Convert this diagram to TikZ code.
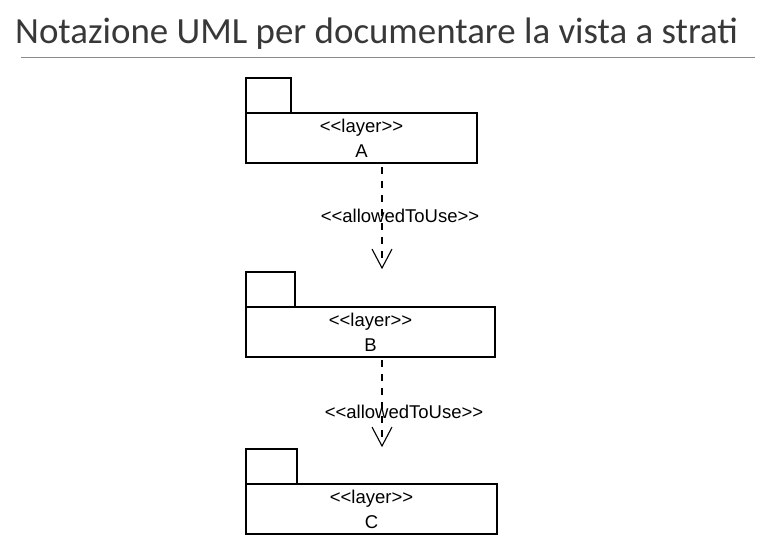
\documentclass[tikz,border=0pt]{standalone}
\usepackage{fontspec}
\usepackage{xcolor}
\usetikzlibrary{arrows.meta, calc, positioning}
\newfontfamily\titlefont{Carlito}
\newfontfamily\umlfont{Liberation Sans}
\definecolor{titlegray}{RGB}{56,56,56}
\definecolor{rulegray}{RGB}{140,140,140}
\newcommand{\stereo}[1]{<\kern0pt<#1>\kern0pt>}
\tikzset{
  layerbox/.style={draw, line width=1.1pt, inner sep=0pt, outer sep=0pt,
    minimum height=50pt, align=center,
    font=\umlfont\fontsize{18.5}{25}\selectfont},
  layertab/.style={draw, line width=1.1pt, inner sep=0pt, outer sep=0pt,
    minimum height=35pt, anchor=south west},
  allowed/.style={dashed, dash pattern=on 7pt off 7pt, line width=1.1pt},
  vhead/.style={line width=1.1pt, line join=miter},
  uselabel/.style={font=\umlfont\fontsize{18.5}{22}\selectfont, inner sep=0pt}
}

\begin{document}
\begin{tikzpicture}[x=1pt, y=-1pt, >=Stealth]
                \useasboundingbox (0,0) rectangle (767,542);

                % Title
                \node[anchor=base west, inner sep=0pt, text=titlegray,
                  font=\titlefont\fontsize{36.9}{40}\selectfont] (title) at (15,43)
                  {Notazione UML per documentare la vista a strati};
                \draw[rulegray, line width=1pt] (21,57) -- (755,57);

                % Layer A
                \node[layerbox, minimum width=231pt] (A) at (361.5,138) {\stereo{layer}\\A};
                \node[layertab, minimum width=45pt] (tabA) at (A.north west) {};

                % Layer B
                \node[layerbox, minimum width=249pt] (B) at (370.5,332) {\stereo{layer}\\B};
                \node[layertab, minimum width=49pt] (tabB) at (B.north west) {};

                % Layer C
                \node[layerbox, minimum width=251pt] (C) at (371.5,509) {\stereo{layer}\\C};
                \node[layertab, minimum width=51pt] (tabC) at (C.north west) {};

                % Dependencies
                \coordinate (dx) at (382,0);
                \coordinate (tipB) at ($(tabB.north -| dx)+(0,-4)$);
                \coordinate (tipC) at ($(tabC.north -| dx)+(0,-3)$);
                \draw[allowed, shorten <=4pt, shorten >=6pt] (A.south -| dx) -- (tipB)
                  node[uselabel, pos=0.505, xshift=18pt] {\stereo{allowedToUse}};
                \draw[vhead] ($(tipB)+(-10,-19)$) -- (tipB) -- ($(tipB)+(10,-19)$);
                \draw[allowed, shorten <=3pt, shorten >=6pt] (B.south -| dx) -- (tipC)
                  node[uselabel, pos=0.618, xshift=22pt] {\stereo{allowedToUse}};
                \draw[vhead] ($(tipC)+(-10,-19)$) -- (tipC) -- ($(tipC)+(10,-19)$);
            \end{tikzpicture}
\end{document}
